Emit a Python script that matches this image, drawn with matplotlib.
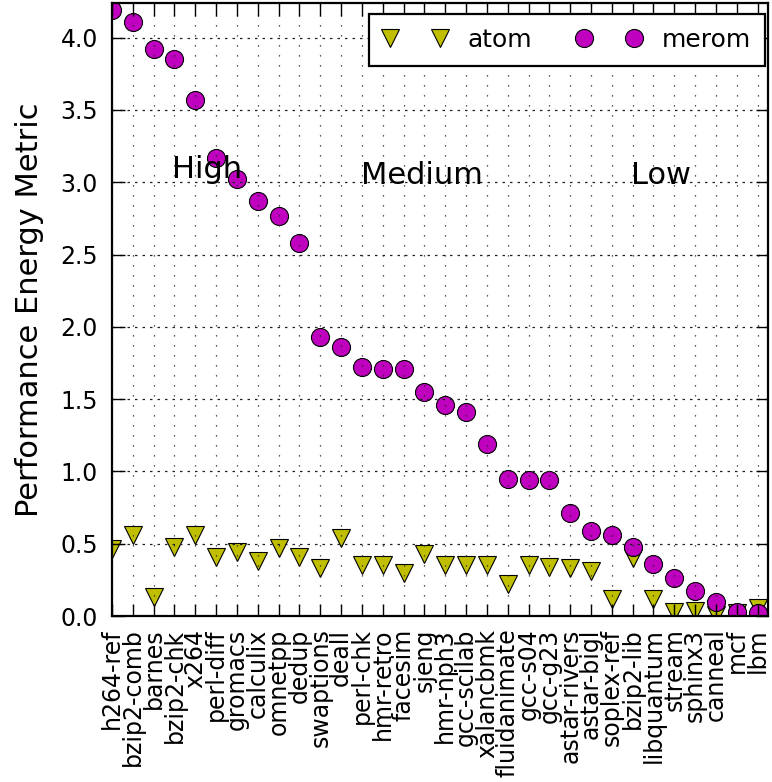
import matplotlib
matplotlib.use("Agg")
import matplotlib.pyplot as plt
import numpy as np

categories = ["h264-ref", "bzip2-comb", "barnes", "bzip2-chk", "x264", "perl-diff",
              "gromacs", "calculix", "omnetpp", "dedup", "swaptions", "deall",
              "perl-chk", "hmr-retro", "facesim", "sjeng", "hmr-nph3", "gcc-scilab",
              "xalancbmk", "fluidanimate", "gcc-s04", "gcc-g23", "astar-rivers",
              "astar-bigl", "soplex-ref", "bzip2-lib", "libquantum", "stream",
              "sphinx3", "canneal", "mcf", "lbm"]

atom = [0.46, 0.56, 0.13, 0.48, 0.56, 0.41, 0.44, 0.38, 0.47, 0.41, 0.33, 0.54,
        0.35, 0.35, 0.30, 0.43, 0.35, 0.35, 0.35, 0.22, 0.35, 0.34, 0.33, 0.31,
        0.12, 0.40, 0.12, 0.03, 0.035, 0.01, 0.02, 0.055]

merom = [4.19, 4.11, 3.92, 3.85, 3.57, 3.17, 3.02, 2.87, 2.77, 2.58, 1.93, 1.86,
         1.72, 1.71, 1.71, 1.55, 1.46, 1.41, 1.19, 0.95, 0.94, 0.94, 0.71, 0.59,
         0.56, 0.48, 0.36, 0.26, 0.17, 0.10, 0.03, 0.02]

groups = ["High", "Medium", "Low"]
group_x = [2.9, 11.95, 24.9]
group_y = [3.03, 2.99, 2.99]

fig = plt.figure(figsize=(7.72, 7.82), dpi=100)
ax = fig.add_axes([112 / 772, 1 - 616 / 782, (768 - 112) / 772, (616 - 3) / 782])

x = np.arange(len(categories))
ax.plot(x, atom, linestyle="none", marker="v", markersize=13,
        markerfacecolor="#bfbf00", markeredgecolor="black", markeredgewidth=0.8,
        label="atom")
ax.plot(x, merom, linestyle="none", marker="o", markersize=13,
        markerfacecolor="#bf00bf", markeredgecolor="black", markeredgewidth=0.8,
        label="merom")

for g, gx, gy in zip(groups, group_x, group_y):
    ax.text(gx, gy, g, fontsize=22, ha="left", va="baseline")

ax.set_xlim(0, 31.5)
ax.set_ylim(0, 4.24)
ax.set_xticks(x)
ax.set_xticklabels(categories, rotation=90, fontsize=17)
ax.set_yticks(np.arange(0, 4.01, 0.5))
ax.set_yticklabels(["%.1f" % v for v in np.arange(0, 4.01, 0.5)], fontsize=17)
ax.tick_params(axis="both", which="major", direction="in", length=9, width=1.0,
               top=True, right=True, pad=9)
ax.tick_params(axis="y", pad=10)

ax.set_axisbelow(False)
ax.xaxis.grid(True, color="#222222", linewidth=0.9, linestyle=(0, (1, 7)))
ax.yaxis.grid(True, color="#222222", linewidth=0.9, linestyle=(0, (2, 4)))

for s in ax.spines.values():
    s.set_linewidth(1.6)

ax.set_ylabel("Performance Energy Metric", fontsize=22, labelpad=12)

leg = ax.legend(loc="upper right", bbox_to_anchor=(0.9954, 0.982), borderaxespad=0,
                ncol=2, numpoints=2, fontsize=18, handlelength=2.6,
                columnspacing=1.8, fancybox=False, framealpha=1,
                edgecolor="black", borderpad=0.55, handletextpad=0.8)
leg.get_frame().set_linewidth(1.6)

fig.savefig("out.png", dpi=100)
